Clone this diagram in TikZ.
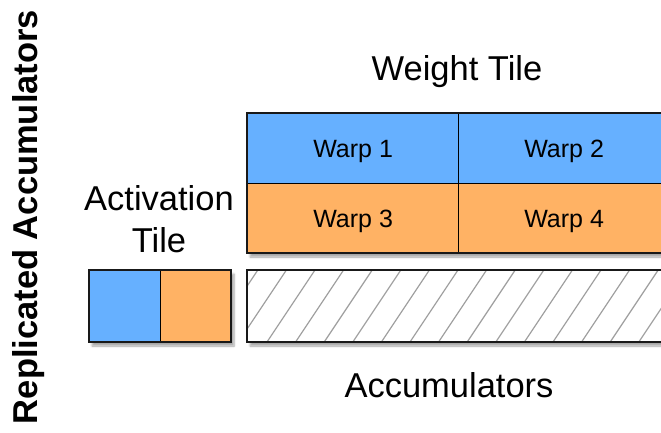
\documentclass[tikz,border=0pt]{standalone}
\usepackage{fontspec}
\setmainfont{Liberation Sans}
\usetikzlibrary{shadows.blur}
\definecolor{wblue}{RGB}{102,176,255}
\definecolor{worange}{RGB}{255,178,100}
\begin{document}
\begin{tikzpicture}[x=1pt,y=-1pt,
 cell/.style={draw=black, line width=1.2pt, minimum width=211pt, minimum height=70pt, inner sep=0pt, anchor=north west, font=\fontsize{25}{30}\selectfont, text height=17.9pt, text depth=0pt},
 acell/.style={draw=black, line width=1.2pt, minimum width=71pt, minimum height=72pt, inner sep=0pt, anchor=north west},
 lbl/.style={font=\fontsize{34.5}{42}\selectfont, inner sep=0pt},
 one/.style={text height=24.7pt, text depth=0pt},
 frame/.style={draw=black!90, line width=2.2pt},
 sh/.style={blur shadow={shadow xshift=3pt, shadow yshift=-4pt, shadow blur steps=6, shadow opacity=35}},
 hatch/.style={draw=gray!75, line width=1.2pt}]
\useasboundingbox (0,0) rectangle (661,433);
\clip (0,0) rectangle (661,433);
% weight tile
\path[sh, fill=white] (247,113) rectangle (672,253);
\node[cell, fill=wblue] (w1) at (247,113) {Warp 1};
\node[cell, fill=wblue] (w2) at (458,113) {Warp 2};
\node[cell, fill=worange] (w3) at (247,183) {Warp 3};
\node[cell, fill=worange] (w4) at (458,183) {Warp 4};
\draw[frame] (247,113) rectangle (672,253);
% activation tile
\path[sh, fill=white] (89,270) rectangle (231,342);
\node[acell, fill=wblue] (a1) at (89,270) {};
\node[acell, fill=worange] (a2) at (160,270) {};
\draw[frame] (89,270) rectangle (231,342);
% accumulators
\path[sh, fill=white] (247,270) rectangle (672,342);
\node[minimum width=425pt, minimum height=72pt, inner sep=0pt, anchor=north west] (acc) at (247,270) {};
\begin{scope}
\clip (247,270) rectangle (672,342);
\foreach \i in {-3,...,16} \draw[hatch] (267+\i*28.6, 342) -- ++(48,-72);
\end{scope}
\draw[frame] (247,270) rectangle (672,342);
% labels
\node[lbl, one] (wt) at (457,68.5) {Weight Tile};
\node[lbl, align=center] (at) at (159,219) {Activation\\Tile};
\node[lbl, one] (al) at (449,385) {Accumulators};
\node[lbl, font=\fontsize{34.5}{42}\selectfont\bfseries, rotate=90] (ra) at (29,217) {Replicated Accumulators};
\end{tikzpicture}
\end{document}
